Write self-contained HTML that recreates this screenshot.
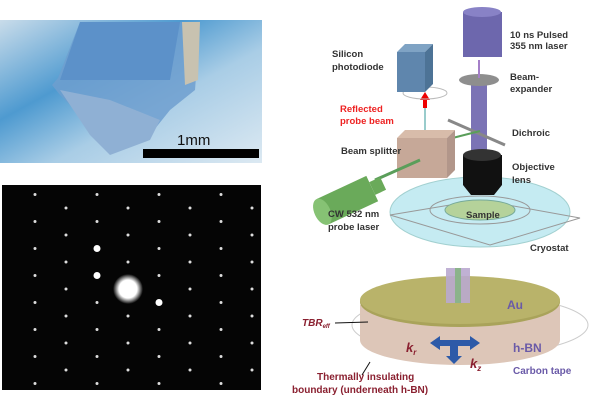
<!DOCTYPE html>
<html><head><meta charset="utf-8"><style>
html,body{margin:0;padding:0;background:#fff;width:600px;height:400px;overflow:hidden}
svg{display:block;font-family:"Liberation Sans",Arial,sans-serif}
.l{font-size:9.5px;font-weight:bold;fill:#333}
</style></head><body>
<svg width="600" height="400" viewBox="0 0 600 400">
<defs>
<linearGradient id="bg" x1="0" y1="0" x2="1" y2="1">
<stop offset="0" stop-color="#c9dcea"/><stop offset="0.35" stop-color="#4e9ad0"/><stop offset="0.6" stop-color="#a9cde6"/><stop offset="1" stop-color="#dce9f2"/></linearGradient>
<radialGradient id="glow"><stop offset="0" stop-color="#fff"/><stop offset="0.6" stop-color="#fff"/><stop offset="1" stop-color="#fff" stop-opacity="0"/></radialGradient>
</defs>
<g>
<rect x="0" y="20" width="262" height="143" fill="url(#bg)"/>
<polygon points="80,22 200,22 195,90 170,110 150,135 110,150 95,130 60,95 52,85 58,78" fill="#6f9fcf" opacity="0.85"/>
<polygon points="80,22 180,22 170,80 60,80" fill="#5c91c9"/>
<polygon points="182,22 200,22 198,80 185,85" fill="#c8c2b0"/>
<polygon points="60,90 110,100 160,120 150,140 110,155 90,135" fill="#8fb0d4"/>
<rect x="143" y="149" width="116" height="9" fill="#000"/>
<text x="177" y="145" font-size="15" fill="#111">1mm</text>
</g>
<g>
<rect x="2" y="185" width="259" height="205" fill="#050505"/>
<g id="spots"></g>
<circle cx="128" cy="289" r="15" fill="url(#glow)"/>
</g>
<g>
<ellipse cx="480" cy="212" rx="90" ry="35" fill="#bfe9f1" stroke="#9cc" opacity="0.9"/>
<polygon points="390,215 480,200 580,218 490,245" fill="none" stroke="#999"/>
<ellipse cx="480" cy="210" rx="50" ry="14" fill="none" stroke="#999"/>
<ellipse cx="480" cy="210" rx="35" ry="10" fill="#b5d29a" stroke="#7a9"/>
<rect x="471" y="85" width="16" height="75" fill="#7b73b5"/>
<line x1="448" y1="120" x2="505" y2="145" stroke="#888" stroke-width="3"/>
<ellipse cx="479" cy="80" rx="20" ry="6" fill="#8e8e8e"/>
<line x1="479" y1="60" x2="479" y2="78" stroke="#a47fc8" stroke-width="2"/>
<rect x="463" y="12" width="39" height="45" fill="#6d67ad"/>
<ellipse cx="482" cy="12" rx="19" ry="5" fill="#8882c6"/>
<path d="M463,155 h39 v30 l-8,10 h-23 l-8,-10z" fill="#111"/>
<ellipse cx="482" cy="155" rx="19" ry="6" fill="#333"/>
<line x1="425" y1="145" x2="480" y2="131" stroke="#5a9e5a" stroke-width="2"/>
<line x1="425" y1="105" x2="425" y2="135" stroke="#9cc" stroke-width="2"/>
<polygon points="423,108 427,108 427,100 430,100 425,92 420,100 423,100" fill="#e00"/>
<ellipse cx="425" cy="93" rx="22" ry="6" fill="none" stroke="#bbb"/>
<polygon points="397,52 405,44 433,44 425,52" fill="#7fa3c4"/>
<rect x="397" y="52" width="28" height="40" fill="#5f86ad"/>
<polygon points="425,52 433,44 433,84 425,92" fill="#4d7396"/>
<polygon points="397,138 405,130 455,130 447,138" fill="#d8bcaa"/>
<rect x="397" y="138" width="50" height="40" fill="#c6a898"/>
<polygon points="447,138 455,130 455,170 447,178" fill="#b2968a"/>
<line x1="375" y1="180" x2="420" y2="160" stroke="#5a9e5a" stroke-width="3"/>
<g transform="rotate(-25 350 200)">
<rect x="320" y="185" width="55" height="28" fill="#6aaa5a"/>
<ellipse cx="320" cy="199" rx="8" ry="14" fill="#86c274"/>
<rect x="375" y="192" width="12" height="14" fill="#6aaa5a"/>
</g>
<text class="l" x="510" y="38">10 ns Pulsed</text>
<text class="l" x="510" y="49">355 nm laser</text>
<text class="l" x="332" y="57">Silicon</text>
<text class="l" x="332" y="70">photodiode</text>
<text class="l" x="510" y="80">Beam-</text>
<text class="l" x="510" y="92">expander</text>
<text class="l" x="340" y="112" style="fill:#e22">Reflected</text>
<text class="l" x="340" y="124" style="fill:#e22">probe beam</text>
<text class="l" x="512" y="136">Dichroic</text>
<text class="l" x="341" y="154">Beam splitter</text>
<text class="l" x="512" y="170">Objective</text>
<text class="l" x="512" y="183">lens</text>
<text class="l" x="466" y="218">Sample</text>
<text class="l" x="328" y="217">CW 532 nm</text>
<text class="l" x="328" y="230">probe laser</text>
<text class="l" x="530" y="251">Cryostat</text>
<g>
<ellipse cx="470" cy="325" rx="118" ry="30" fill="none" stroke="#ccc"/>
<path d="M360,305 v35 a100,25 0 0 0 200,0 v-35z" fill="#ddc6b8"/>
<ellipse cx="460" cy="302" rx="100" ry="25" fill="#a9a35a"/>
<ellipse cx="460" cy="300" rx="100" ry="24" fill="#b9b36a"/>
<rect x="446" y="268" width="24" height="35" fill="#b9a8cf" opacity="0.9"/>
<rect x="455" y="268" width="6" height="35" fill="#8bb38b"/>
<path d="M430,343 l10,-7 v4 h30 v-4 l10,7 l-10,7 v-4 h-12 v10 h4 l-8,8 l-8,-8 h4 v-10 h-10 v4z" fill="#2d5aa8"/>
<line x1="335" y1="323" x2="368" y2="322" stroke="#111"/>
<line x1="370" y1="362" x2="362" y2="375" stroke="#111"/>
</g>
<text x="507" y="309" font-size="12" font-weight="bold" fill="#6a5aa8">Au</text>
<text x="302" y="326" font-size="10" font-weight="bold" font-style="italic" fill="#8a2030">TBR<tspan font-size="6" dy="2">eff</tspan></text>
<text x="513" y="352" font-size="12" font-weight="bold" fill="#6a5aa8">h-BN</text>
<text x="406" y="352" font-size="13" font-weight="bold" font-style="italic" fill="#8a2030">k<tspan font-size="8" dy="3">r</tspan></text>
<text x="470" y="368" font-size="13" font-weight="bold" font-style="italic" fill="#8a2030">k<tspan font-size="8" dy="3">z</tspan></text>
<text x="513" y="374" font-size="10" font-weight="bold" fill="#6a5aa8">Carbon tape</text>
<text x="317" y="380" font-size="10" font-weight="bold" fill="#8a2030">Thermally insulating</text>
<text x="292" y="393" font-size="10" font-weight="bold" fill="#8a2030">boundary (underneath h-BN)</text>
</g>
</svg>
<script>
const g=document.getElementById('spots');
const bright=['-1,-3','-1,-1','1,1'];
for(let i=-5;i<=5;i++)for(let j=-7;j<=7;j++){
 if((i+j)%2)continue;
 const x=128+31*i,y=289+13.5*j;
 if(x<6||x>258||y<189||y>387)continue;
 if(i==0&&j==0)continue;
 const b=bright.includes(i+','+j);
 const c=document.createElementNS('http://www.w3.org/2000/svg','circle');
 c.setAttribute('cx',x);c.setAttribute('cy',y);
 c.setAttribute('r',b?3.5:1.5);
 c.setAttribute('fill',b?'#fff':'#ddd');
 
 
 g.appendChild(c);
}
</script>
</body></html>
